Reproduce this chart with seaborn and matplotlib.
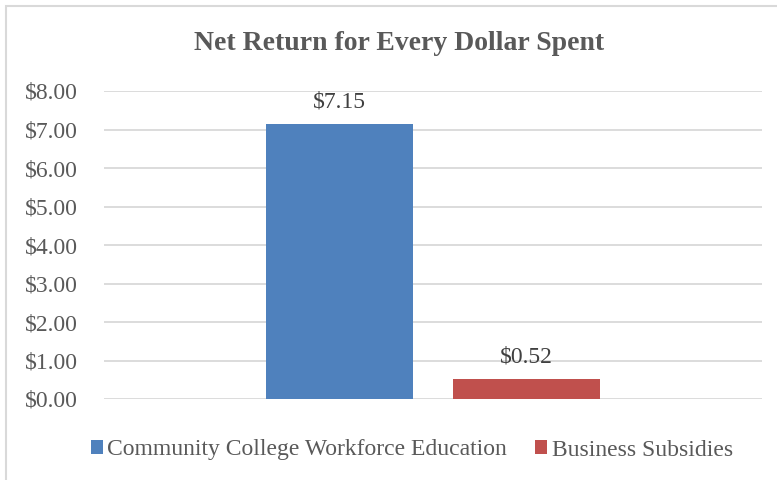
import matplotlib
matplotlib.use("Agg")
import matplotlib.pyplot as plt
import seaborn as sns
import pandas as pd
from matplotlib.patches import Rectangle

categories = ["Net Return"]
series = ["Community College Workforce Education", "Business Subsidies"]
values = [7.15, 0.52]
labels = ["$7.15", "$0.52"]
yticks = [0, 1, 2, 3, 4, 5, 6, 7, 8]

colors = ["#4F81BD", "#C0504D"]

df = pd.DataFrame({"cat": categories * len(series), "series": series, "value": values})

sns.set_theme(style="white")
plt.rcParams["font.family"] = ["Liberation Serif", "DejaVu Serif"]

fig = plt.figure(figsize=(7.77, 4.8), dpi=100)
ax = fig.add_axes([104 / 777, 1 - 399 / 480, (762 - 104) / 777, (399 - 91) / 480])

sns.barplot(data=df, x="cat", y="value", hue="series", hue_order=series,
            palette=colors, width=0.8, gap=0.214, ax=ax, saturation=1,
            edgecolor="none", linewidth=0, errorbar=None, legend=True)

ax.set_ylim(0, 8)
ax.set_xlim(-0.7037, 0.7038)
ax.set_yticks(yticks)
ax.set_yticklabels([f"${v:.2f}" for v in yticks], color="#595959", fontsize=17)
ax.set_xticks([])
ax.set_xlabel("")
ax.set_ylabel("")
ax.tick_params(axis="y", length=0, pad=19)
ax.yaxis.grid(True, color="#D9D9D9", linewidth=1.3)
ax.set_axisbelow(True)
for s in ax.spines.values():
    s.set_visible(False)

for cont, lab in zip(ax.containers, labels):
    ax.bar_label(cont, labels=[lab], padding=8, fontsize=17, color="#404040")

leg = ax.get_legend()
leg.remove()
handles = [Rectangle((0, 0), 1, 1, facecolor=c, edgecolor="none") for c in colors]
fig.legend(handles, series, loc="center", bbox_to_anchor=(412 / 777, 1 - 450 / 480),
           ncol=2, frameon=False, fontsize=17, handlelength=0.5, handleheight=0.5,
           handletextpad=0.2, columnspacing=1.2, labelcolor="#595959")

fig.text(399 / 777, 1 - 44 / 480, "Net Return for Every Dollar Spent", ha="center", va="center",
         fontsize=20, fontweight="bold", color="#595959")

fig.patches.append(Rectangle((6, -10), 800, 480 - 6 + 10, transform=None, fill=False,
                             edgecolor="#D9D9D9", linewidth=1.5))

fig.savefig("out.png", dpi=100)
